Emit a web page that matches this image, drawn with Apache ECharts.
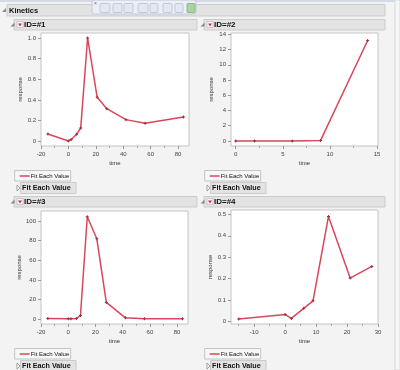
<!DOCTYPE html>
<html><head><meta charset="utf-8">
<script src="https://cdn.jsdelivr.net/npm/echarts@6/dist/echarts.min.js"></script>
<style>html,body{margin:0;padding:0;background:#f3f3f3;overflow:hidden}#c{width:400px;height:370px}</style>
</head><body><div id="c"></div>
<script>
// ---- data ----
const outlineTitle = 'Kinetics';
const panelTitles = ['ID=#1', 'ID=#2', 'ID=#3', 'ID=#4'];
const legendLabel = 'Fit Each Value';
const xTitle = 'time';
const yTitle = 'response';

const time1 = [-15, 0, 2, 6, 9, 14, 21, 28, 42, 56, 84];
const resp1 = [0.071, 0.003, 0.018, 0.068, 0.13, 1.0, 0.426, 0.316, 0.21, 0.174, 0.235];
const time2 = [0, 2, 6, 9, 14];
const resp2 = [0, 0, 0, 0.05, 13.2];
const time3 = [-15, 0, 2, 6, 9, 14, 21, 28, 42, 56, 84];
const resp3 = [0.5, 0.2, 0.3, 0.5, 3.7, 104.5, 82, 17, 1.2, 0.3, 0.2];
const time4 = [-15, 0, 2, 6, 9, 14, 21, 28];
const resp4 = [0.012, 0.033, 0.015, 0.062, 0.097, 0.49, 0.203, 0.257];

const xTicks1 = [-20, 0, 20, 40, 60, 80];
const xMinor1 = [-10, 10, 30, 50, 70];
const yTicks1 = [0, 0.2, 0.4, 0.6, 0.8, 1.0];
const xTicks2 = [0, 5, 10, 15];
const xMinor2 = [2.5, 7.5, 12.5];
const yTicks2 = [0, 2, 4, 6, 8, 10, 12, 14];
const xTicks3 = [-20, 0, 20, 40, 60, 80];
const xMinor3 = [-10, 10, 30, 50, 70];
const yTicks3 = [0, 20, 40, 60, 80, 100];
const xTicks4 = [-10, 0, 10, 20, 30];
const xMinor4 = [-15, -5, 5, 15, 25];
const yTicks4 = [0, 0.1, 0.2, 0.3, 0.4, 0.5];

// ---- layout / style ----
const LINE = '#d9475a';
const FONT = 'Liberation Sans, Arial, sans-serif';
const panels = [
  { t: time1, r: resp1, xt: xTicks1, xm: xMinor1, yt: yTicks1, xr: [-20, 88], yr: [-0.045, 1.048], dec: 1,
    grid: { left: 41, top: 33, width: 148, height: 113 }, hx: 14, hy: 19.5, hw: 183 },
  { t: time2, r: resp2, xt: xTicks2, xm: xMinor2, yt: yTicks2, xr: [-0.5, 15.1], yr: [-0.66, 14.18], dec: 0,
    grid: { left: 231, top: 33, width: 147, height: 113 }, hx: 204, hy: 19.5, hw: 181 },
  { t: time3, r: resp3, xt: xTicks3, xm: xMinor3, yt: yTicks3, xr: [-20, 88], yr: [-5.1, 110.4], dec: 0,
    grid: { left: 41, top: 211, width: 147, height: 113 }, hx: 14, hy: 196.5, hw: 183 },
  { t: time4, r: resp4, xt: xTicks4, xm: xMinor4, yt: yTicks4, xr: [-17.5, 30], yr: [-0.011, 0.52], dec: 1,
    grid: { left: 231, top: 210, width: 147, height: 114 }, hx: 204, hy: 196.5, hw: 181 }
];

const grids = [], xAxes = [], yAxes = [], series = [], gfx = [];
const labStyle = { fontSize: 6, color: '#444', fontFamily: FONT };

function header(x, y, w, h) {
  gfx.push({ type: 'rect', shape: { x: x, y: y, width: w, height: h },
    style: { fill: '#e3e3e3', stroke: '#cbcbcb', lineWidth: 1 }, silent: true });
}
function openTri(x, y) {
  gfx.push({ type: 'polygon', shape: { points: [[x, y + 2.5], [x + 4, y + 2.5], [x + 4, y - 1.5]] },
    style: { fill: '#8a8a8a' }, silent: true });
}
function closedTri(x, y) {
  gfx.push({ type: 'polygon', shape: { points: [[x, y - 3], [x + 3, y], [x, y + 3]] },
    style: { fill: '#fff', stroke: '#8a8a8a', lineWidth: 0.8 }, silent: true });
}
function txt(x, y, s, size, bold, align) {
  gfx.push({ type: 'text', x: x, y: y, silent: true,
    style: { text: s, fontSize: size, fontWeight: bold ? 'bold' : 'normal', fill: '#111',
      fontFamily: FONT, textAlign: align || 'left', textVerticalAlign: 'middle' } });
}

// page chrome
gfx.push({ type: 'rect', shape: { x: 0, y: 0, width: 400, height: 2 }, style: { fill: '#d5d9e6' }, silent: true });
gfx.push({ type: 'rect', shape: { x: 395, y: 0, width: 5, height: 370 }, style: { fill: '#f7f7f7', stroke: '#d6d6d6', lineWidth: 1 }, silent: true });
header(7, 4.5, 378, 11.5);
openTri(2, 9.5);
txt(9, 10.5, outlineTitle, 7.5, true);

panels.forEach(function (p, i) {
  const g = p.grid;
  grids.push({ left: g.left, top: g.top, width: g.width, height: g.height, show: true,
    backgroundColor: '#ffffff', borderColor: '#c4c4c4', borderWidth: 1 });
  const xfmt = function (v) { return String(v); };
  const yfmt = function (v) { return v === 0 ? '0' : v.toFixed(p.dec); };
  xAxes.push({ type: 'value', gridIndex: i, min: p.xr[0], max: p.xr[1], position: 'bottom',
    axisLine: { show: false, onZero: false }, splitLine: { show: false },
    axisTick: { show: true, length: 3, customValues: p.xt, lineStyle: { color: '#9a9a9a' } },
    axisLabel: Object.assign({ customValues: p.xt, margin: 5, formatter: xfmt }, labStyle),
    name: xTitle, nameLocation: 'middle', nameGap: 14,
    nameTextStyle: { fontSize: 6, color: '#333', fontFamily: FONT } });
  xAxes.push({ type: 'value', gridIndex: i, min: p.xr[0], max: p.xr[1], position: 'bottom',
    axisLine: { show: false, onZero: false }, splitLine: { show: false },
    axisTick: { show: true, length: 2, customValues: p.xm, lineStyle: { color: '#a8a8a8' } },
    axisLabel: { show: false } });
  yAxes.push({ type: 'value', gridIndex: i, min: p.yr[0], max: p.yr[1], position: 'left',
    axisLine: { show: false, onZero: false }, splitLine: { show: false },
    axisTick: { show: true, length: 3, customValues: p.yt, lineStyle: { color: '#9a9a9a' } },
    axisLabel: Object.assign({ customValues: p.yt, margin: 5, formatter: yfmt }, labStyle),
    name: yTitle, nameLocation: 'middle', nameGap: 17, nameRotate: 90,
    nameTextStyle: { fontSize: 6, color: '#333', fontFamily: FONT } });
  series.push({ type: 'line', xAxisIndex: 2 * i, yAxisIndex: i,
    data: p.t.map(function (t, k) { return [t, p.r[k]]; }),
    symbol: 'path://M-1,-3h2v2h2v2h-2v2h-2v-2h-2v-2h2z', symbolSize: 3, showSymbol: true,
    itemStyle: { color: '#9c3040' }, lineStyle: { color: LINE, width: 1.5 }, animation: false, silent: true });

  // headers
  header(p.hx, p.hy, p.hw, 10.5);
  openTri(p.hx - 3.5, p.hy + 4.5);
  gfx.push({ type: 'rect', shape: { x: p.hx + 3, y: p.hy + 2, width: 6, height: 6 },
    style: { fill: '#fafafa', stroke: '#b0b0b0', lineWidth: 0.6 }, silent: true });
  gfx.push({ type: 'polygon', shape: { points: [[p.hx + 4, p.hy + 4], [p.hx + 8, p.hy + 4], [p.hx + 6, p.hy + 7]] },
    style: { fill: '#d0303a' }, silent: true });
  txt(p.hx + 10, p.hy + 5.5, panelTitles[i], 8, true);

  // legend box
  const lx = p.hx + 0.7, ly = g.top + g.height + 24.5;
  gfx.push({ type: 'rect', shape: { x: lx, y: ly, width: 56, height: 10.5 },
    style: { fill: '#f7f7f7', stroke: '#c4c4c4', lineWidth: 1 }, silent: true });
  gfx.push({ type: 'line', shape: { x1: lx + 5, y1: ly + 5.5, x2: lx + 15, y2: ly + 5.5 },
    style: { stroke: LINE, lineWidth: 1.5 }, silent: true });
  txt(lx + 16, ly + 5.5, legendLabel, 6, false);

  // collapsed outline
  const by = ly + 12;
  gfx.push({ type: 'rect', shape: { x: p.hx + 6.5, y: by, width: 55.5, height: 11 },
    style: { fill: '#e3e3e3', stroke: '#cbcbcb', lineWidth: 1 }, silent: true });
  closedTri(p.hx + 3, by + 5.5);
  txt(p.hx + 8, by + 5.5, legendLabel, 7.2, true);
});

// floating toolbar
gfx.push({ type: 'rect', shape: { x: 92, y: 0, width: 104, height: 14, r: 2 },
  style: { fill: 'rgba(236,240,247,0.92)', stroke: '#c2c9d8', lineWidth: 1 }, silent: true });
gfx.push({ type: 'text', x: 94, y: 4, silent: true, style: { text: '×', fontSize: 5, fill: '#d03030', textVerticalAlign: 'middle' } });
[[100, 10], [113, 9], [124, 9], [138, 10], [150, 8], [163, 9], [175, 8]].forEach(function (b) {
  gfx.push({ type: 'rect', shape: { x: b[0], y: 3.5, width: b[1], height: 9, r: 1 },
    style: { fill: '#e2e7f0', stroke: '#b9c2d3', lineWidth: 0.8 }, silent: true });
});
gfx.push({ type: 'rect', shape: { x: 187, y: 3.5, width: 8, height: 9, r: 1 },
  style: { fill: '#a9d3a4', stroke: '#7bb376', lineWidth: 0.8 }, silent: true });

const chart = echarts.init(document.getElementById('c'), null, { renderer: 'canvas' });
chart.setOption({
  animation: false,
  backgroundColor: '#f3f3f3',
  grid: grids, xAxis: xAxes, yAxis: yAxes, series: series,
  graphic: { elements: gfx }
});
</script>
</body></html>
